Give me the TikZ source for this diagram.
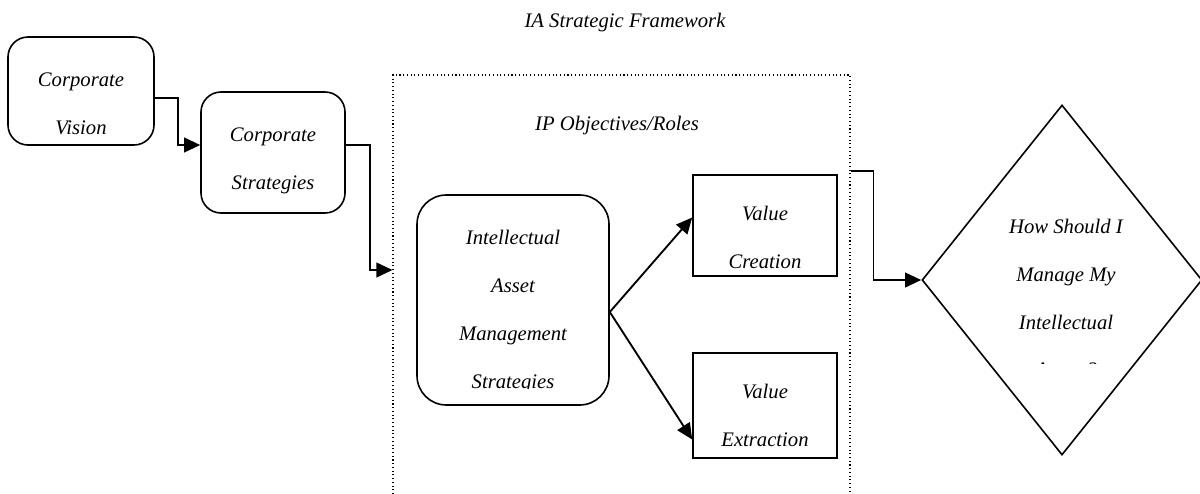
\documentclass[tikz,border=0pt]{standalone}
\usepackage{fontspec}
\setmainfont{Liberation Serif}
\usetikzlibrary{arrows.meta,calc,shapes.geometric}

\begin{document}
\begin{tikzpicture}[x=0.75pt,y=-0.75pt,font=\fontsize{15.5}{36}\selectfont\itshape]
\tikzstyle{rbox}=[draw=black,line width=1.2pt,inner sep=0pt]
\tikzstyle{txt}=[align=center,inner sep=0pt]
\tikzstyle{conn}=[-{Triangle[length=12pt,width=11pt]},line width=1.4pt]

\clip (0,0) rectangle (1200,493);

\node[txt] (title) at (625,23) {IA Strategic Framework};

% left boxes
\node[rbox,rounded corners=15pt,minimum width=109.5pt,minimum height=81pt] (vision) at (81,91) {};
\begin{scope}
  \clip (8,37) rectangle (154,134);
  \node[txt] (visiontxt) at (81,104) {Corporate\\Vision};
\end{scope}
\node[rbox,rounded corners=15pt,minimum width=108pt,minimum height=90.75pt] (strat) at (273,152.5) {};
\node[txt] (strattxt) at (273,161) {Corporate\\Strategies};

% dotted frame
\node[draw,dotted,line width=0.8pt,minimum width=342.75pt,minimum height=333.75pt] (objbox) at (621.5,297.5) {};
\node[txt] (objlabel) at (617,126) {IP Objectives/Roles};

\node[rbox,rounded corners=22pt,minimum width=144pt,minimum height=157.5pt] (iam) at (513,300) {};
\begin{scope}
  \clip (417,195) rectangle (609,388);
  \node[txt] (iamtxt) at (513,312) {Intellectual\\Asset\\Management\\Strategies};
\end{scope}
\node[rbox,minimum width=108pt,minimum height=75.75pt] (vc) at (765,225.5) {};
\node[txt] (vctxt) at (765,237) {Value\\Creation};
\node[rbox,minimum width=108pt,minimum height=78.75pt] (ve) at (765,405.5) {};
\node[txt] (vetxt) at (765,415) {Value\\Extraction};

% diamond
\node[rbox,diamond,minimum width=210pt,minimum height=262.5pt] (howto) at (1062,280) {};
\node[txt] (howtotxt) at (1066,274) {How Should I\\Manage My\\Intellectual};
\begin{scope}
  \clip (950,300) rectangle (1180,363);
  \node[txt] (assetstxt) at (1066,370) {Assets?};
\end{scope}

% connectors
\draw[conn] ($(vision.east)+(0,7)$) -- ++(23,0) |- ($(strat.west)+(0,-7.5)$);
\draw[conn] ($(strat.east)+(0,-7.5)$) -- ++(24,0) |- ($(objbox.west)+(0,-27.5)$);
\draw[conn] ($(iam.east)+(0,12)$) -- ($(vc.west)+(0,-8)$);
\draw[conn] ($(iam.east)+(0,12)$) -- ($(ve.west)+(0,34)$);
\draw[conn] ($(objbox.east)+(0,-126.5)$) -- ++(23,0) |- (howto.west);
\end{tikzpicture}
\end{document}
